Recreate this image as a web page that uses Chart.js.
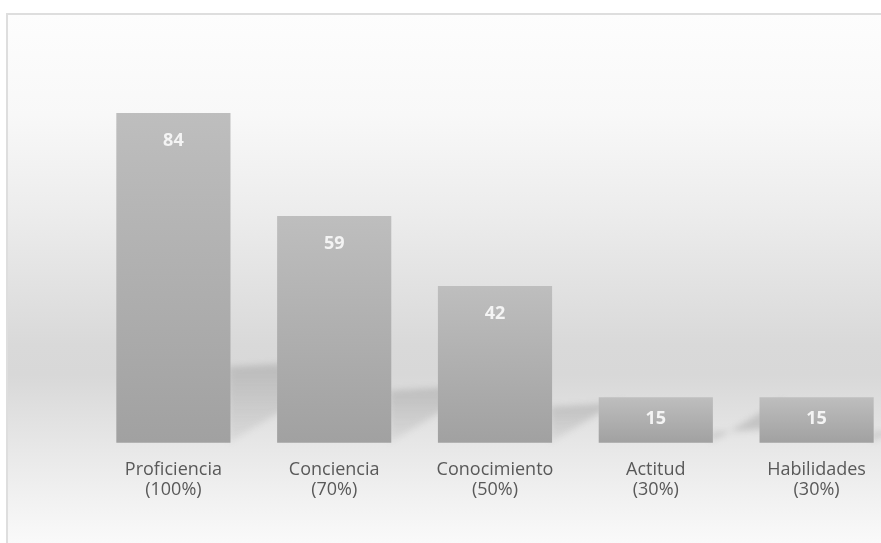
<!DOCTYPE html>
<html>
<head>
<meta charset="utf-8">
<script src="https://cdn.jsdelivr.net/npm/chart.js@4/dist/chart.umd.min.js"></script>
<style>
  html, body { margin: 0; padding: 0; background: #fff; overflow: hidden; width: 881px; height: 543px; }
  #frame {
    position: absolute; left: 6px; top: 13px; width: 900px; height: 560px;
    border-left: 2px solid #dedede; border-top: 2px solid #dedede;
    background: linear-gradient(to bottom, #fdfdfd 0px, #f8f8f8 100px, #ececec 200px, #d9d9d9 330px, #d8d8d8 360px, #e9e9e9 440px, #fafafa 530px);
  }
  #wrap { position: absolute; left: 0; top: 0; width: 900px; height: 543px; }
</style>
</head>
<body>
<div id="frame"></div>
<div id="wrap"><canvas id="chart"></canvas></div>
<script>
const categories = [["Proficiencia", "(100%)"], ["Conciencia", "(70%)"], ["Conocimiento", "(50%)"], ["Actitud", "(30%)"], ["Habilidades", "(30%)"]];
const values = [84, 59, 42, 15, 15];
const yMin = 4;
const yMax = 100;

// per bar vertical gradient, light on top, darker at the base
function barGradient(context) {
  const chart = context.chart;
  const area = chart.chartArea;
  if (!area) return "#b0b0b0";
  const y = chart.scales.y;
  const top = y.getPixelForValue(context.raw);
  const bottom = y.getPixelForValue(yMin);
  const g = chart.ctx.createLinearGradient(0, top, 0, bottom);
  g.addColorStop(0, "#bebebe");
  g.addColorStop(1, "#a1a1a1");
  return g;
}

// soft perspective shadow thrown to the right of every bar
const barShadows = {
  id: "barShadows",
  beforeDatasetsDraw(chart) {
    const ctx = chart.ctx;
    const yScale = chart.scales.y;
    const base = yScale.getPixelForValue(yMin);
    const meta = chart.getDatasetMeta(0);
    ctx.save();
    ctx.filter = "blur(3px)";
    meta.data.forEach(function(bar, i) {
      const right = bar.x + bar.width / 2;
      const h = base - yScale.getPixelForValue(values[i]);
      const sh = h * 0.23;
      const len = 70;
      const g = ctx.createLinearGradient(0, base - sh, 0, base);
      g.addColorStop(0, "rgba(120,120,120,0.28)");
      g.addColorStop(1, "rgba(120,120,120,0.10)");
      ctx.fillStyle = g;
      ctx.beginPath();
      ctx.moveTo(right - 2, base);
      ctx.lineTo(right - 2, base - sh);
      ctx.lineTo(right + len, base - sh - 4);
      ctx.lineTo(right + len, base - len * 0.62);
      ctx.closePath();
      ctx.fill();
    });
    ctx.restore();
  }
};

// value labels inside the top of each bar
const valueLabels = {
  id: "valueLabels",
  afterDatasetsDraw(chart) {
    const ctx = chart.ctx;
    const yScale = chart.scales.y;
    const base = yScale.getPixelForValue(yMin);
    const meta = chart.getDatasetMeta(0);
    ctx.save();
    ctx.font = "bold 18px 'Open Sans'";
    ctx.fillStyle = "#f4f4f4";
    ctx.textAlign = "center";
    ctx.textBaseline = "middle";
    meta.data.forEach(function(bar, i) {
      const top = yScale.getPixelForValue(values[i]);
      const offset = Math.min(28, (base - top) / 2 - 1);
      ctx.fillText(values[i], bar.x, top + offset);
    });
    ctx.restore();
  }
};

new Chart(document.getElementById("chart").getContext("2d"), {
  type: "bar",
  data: {
    labels: categories,
    datasets: [{
      data: values,
      backgroundColor: barGradient,
      borderWidth: 0,
      barPercentage: 0.71,
      categoryPercentage: 1
    }]
  },
  options: {
    responsive: true,
    maintainAspectRatio: false,
    animation: false,
    layout: { padding: { left: 93, right: 3, top: 47, bottom: 26 } },
    plugins: {
      legend: { display: false },
      tooltip: { enabled: false }
    },
    scales: {
      x: {
        grid: { display: false, drawTicks: false },
        border: { display: false },
        ticks: {
          color: "#595959",
          padding: 17,
          font: { family: "'Open Sans'", size: 18, lineHeight: 1.12 }
        }
      },
      y: {
        display: false,
        min: yMin,
        max: yMax
      }
    }
  },
  plugins: [barShadows, valueLabels]
});
</script>
</body>
</html>
